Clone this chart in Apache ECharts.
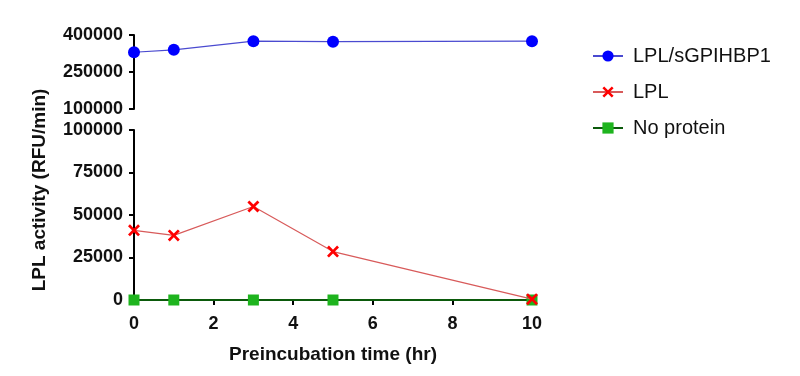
<!DOCTYPE html>
<html>
<head>
<meta charset="utf-8">
<script src="https://cdn.jsdelivr.net/npm/echarts@6/dist/echarts.min.js"></script>
<style>html,body{margin:0;padding:0;background:#fff;}#c{width:800px;height:376px;}</style>
</head>
<body>
<div id="c"></div>
<script>
const times = [0, 1, 3, 5, 10];
const lplSgpihbp1 = [330000, 340000, 375000, 373000, 375000];
const lpl = [41000, 38000, 55000, 28500, 500];
const noProtein = [0, 0, 0, 0, 0];
const topTicks = [100000, 250000, 400000];
const bottomTicks = [0, 25000, 50000, 75000, 100000];
const xTicks = [0, 2, 4, 6, 8, 10];

const font = 'Liberation Sans, Arial, sans-serif';
const pair = (xs, ys) => xs.map((x, i) => [x, ys[i]]);
const xShape = 'path://M0,1.6 L1.6,0 L5,3.4 L8.4,0 L10,1.6 L6.6,5 L10,8.4 L8.4,10 L5,6.6 L1.6,10 L0,8.4 L3.4,5 Z';

const axisLine = { show: true, lineStyle: { color: '#000', width: 2 } };
const axisTick = { show: true, length: 5, lineStyle: { color: '#000', width: 2 } };
const tickLabel = { color: '#111', fontWeight: 'bold', fontSize: 18, fontFamily: font, margin: 11,
                    formatter: v => String(v) };

const chart = echarts.init(document.getElementById('c'));
chart.setOption({
  animation: false,
  grid: [
    { left: 134, right: 268, top: 35, height: 74 },
    { left: 134, right: 268, top: 130, height: 170 }
  ],
  xAxis: [
    { gridIndex: 0, type: 'value', min: 0, max: 10, interval: 2, show: false },
    { gridIndex: 1, type: 'value', min: xTicks[0], max: xTicks[xTicks.length - 1], interval: 2,
      axisLine, axisTick, splitLine: { show: false },
      axisLabel: Object.assign({}, tickLabel, { margin: 15 }),
      name: 'Preincubation time (hr)', nameLocation: 'middle', nameGap: 45,
      nameTextStyle: { color: '#111', fontWeight: 'bold', fontSize: 19, fontFamily: font } }
  ],
  yAxis: [
    { gridIndex: 0, type: 'value', min: topTicks[0], max: topTicks[topTicks.length - 1], interval: 150000,
      axisLine, axisTick, splitLine: { show: false }, axisLabel: tickLabel },
    { gridIndex: 1, type: 'value', min: bottomTicks[0], max: bottomTicks[bottomTicks.length - 1], interval: 25000,
      axisLine, axisTick, splitLine: { show: false }, axisLabel: tickLabel }
  ],
  legend: {
    orient: 'vertical', left: 587, top: 41, itemGap: 16, itemWidth: 30, itemHeight: 14,
    textStyle: { color: '#111', fontSize: 20, fontFamily: font, padding: [0, 0, 0, 5] },
    data: ['LPL/sGPIHBP1', 'LPL', 'No protein']
  },
  graphic: [{
    type: 'text', x: 40, y: 190, rotation: Math.PI / 2,
    style: { text: 'LPL activity (RFU/min)', fill: '#111', fontWeight: 'bold', fontSize: 19, fontFamily: font,
             align: 'center', verticalAlign: 'middle' }
  }],
  series: [
    { name: 'LPL/sGPIHBP1', type: 'line', xAxisIndex: 0, yAxisIndex: 0, data: pair(times, lplSgpihbp1),
      symbol: 'circle', symbolSize: 12, clip: false,
      itemStyle: { color: '#0000ff' }, lineStyle: { color: '#4a4ad0', width: 1.2 } },
    { name: 'LPL', type: 'line', xAxisIndex: 1, yAxisIndex: 1, data: pair(times, lpl),
      symbol: xShape, symbolSize: 12, clip: false, z: 4,
      itemStyle: { color: '#ff0000' }, lineStyle: { color: '#d85a5a', width: 1.2 } },
    { name: 'No protein', type: 'line', xAxisIndex: 1, yAxisIndex: 1, data: pair(times, noProtein),
      symbol: 'rect', symbolSize: 11, clip: false, z: 3,
      itemStyle: { color: '#1eb41e' }, lineStyle: { color: '#0b5a0b', width: 2 } }
  ]
});
</script>
</body>
</html>
